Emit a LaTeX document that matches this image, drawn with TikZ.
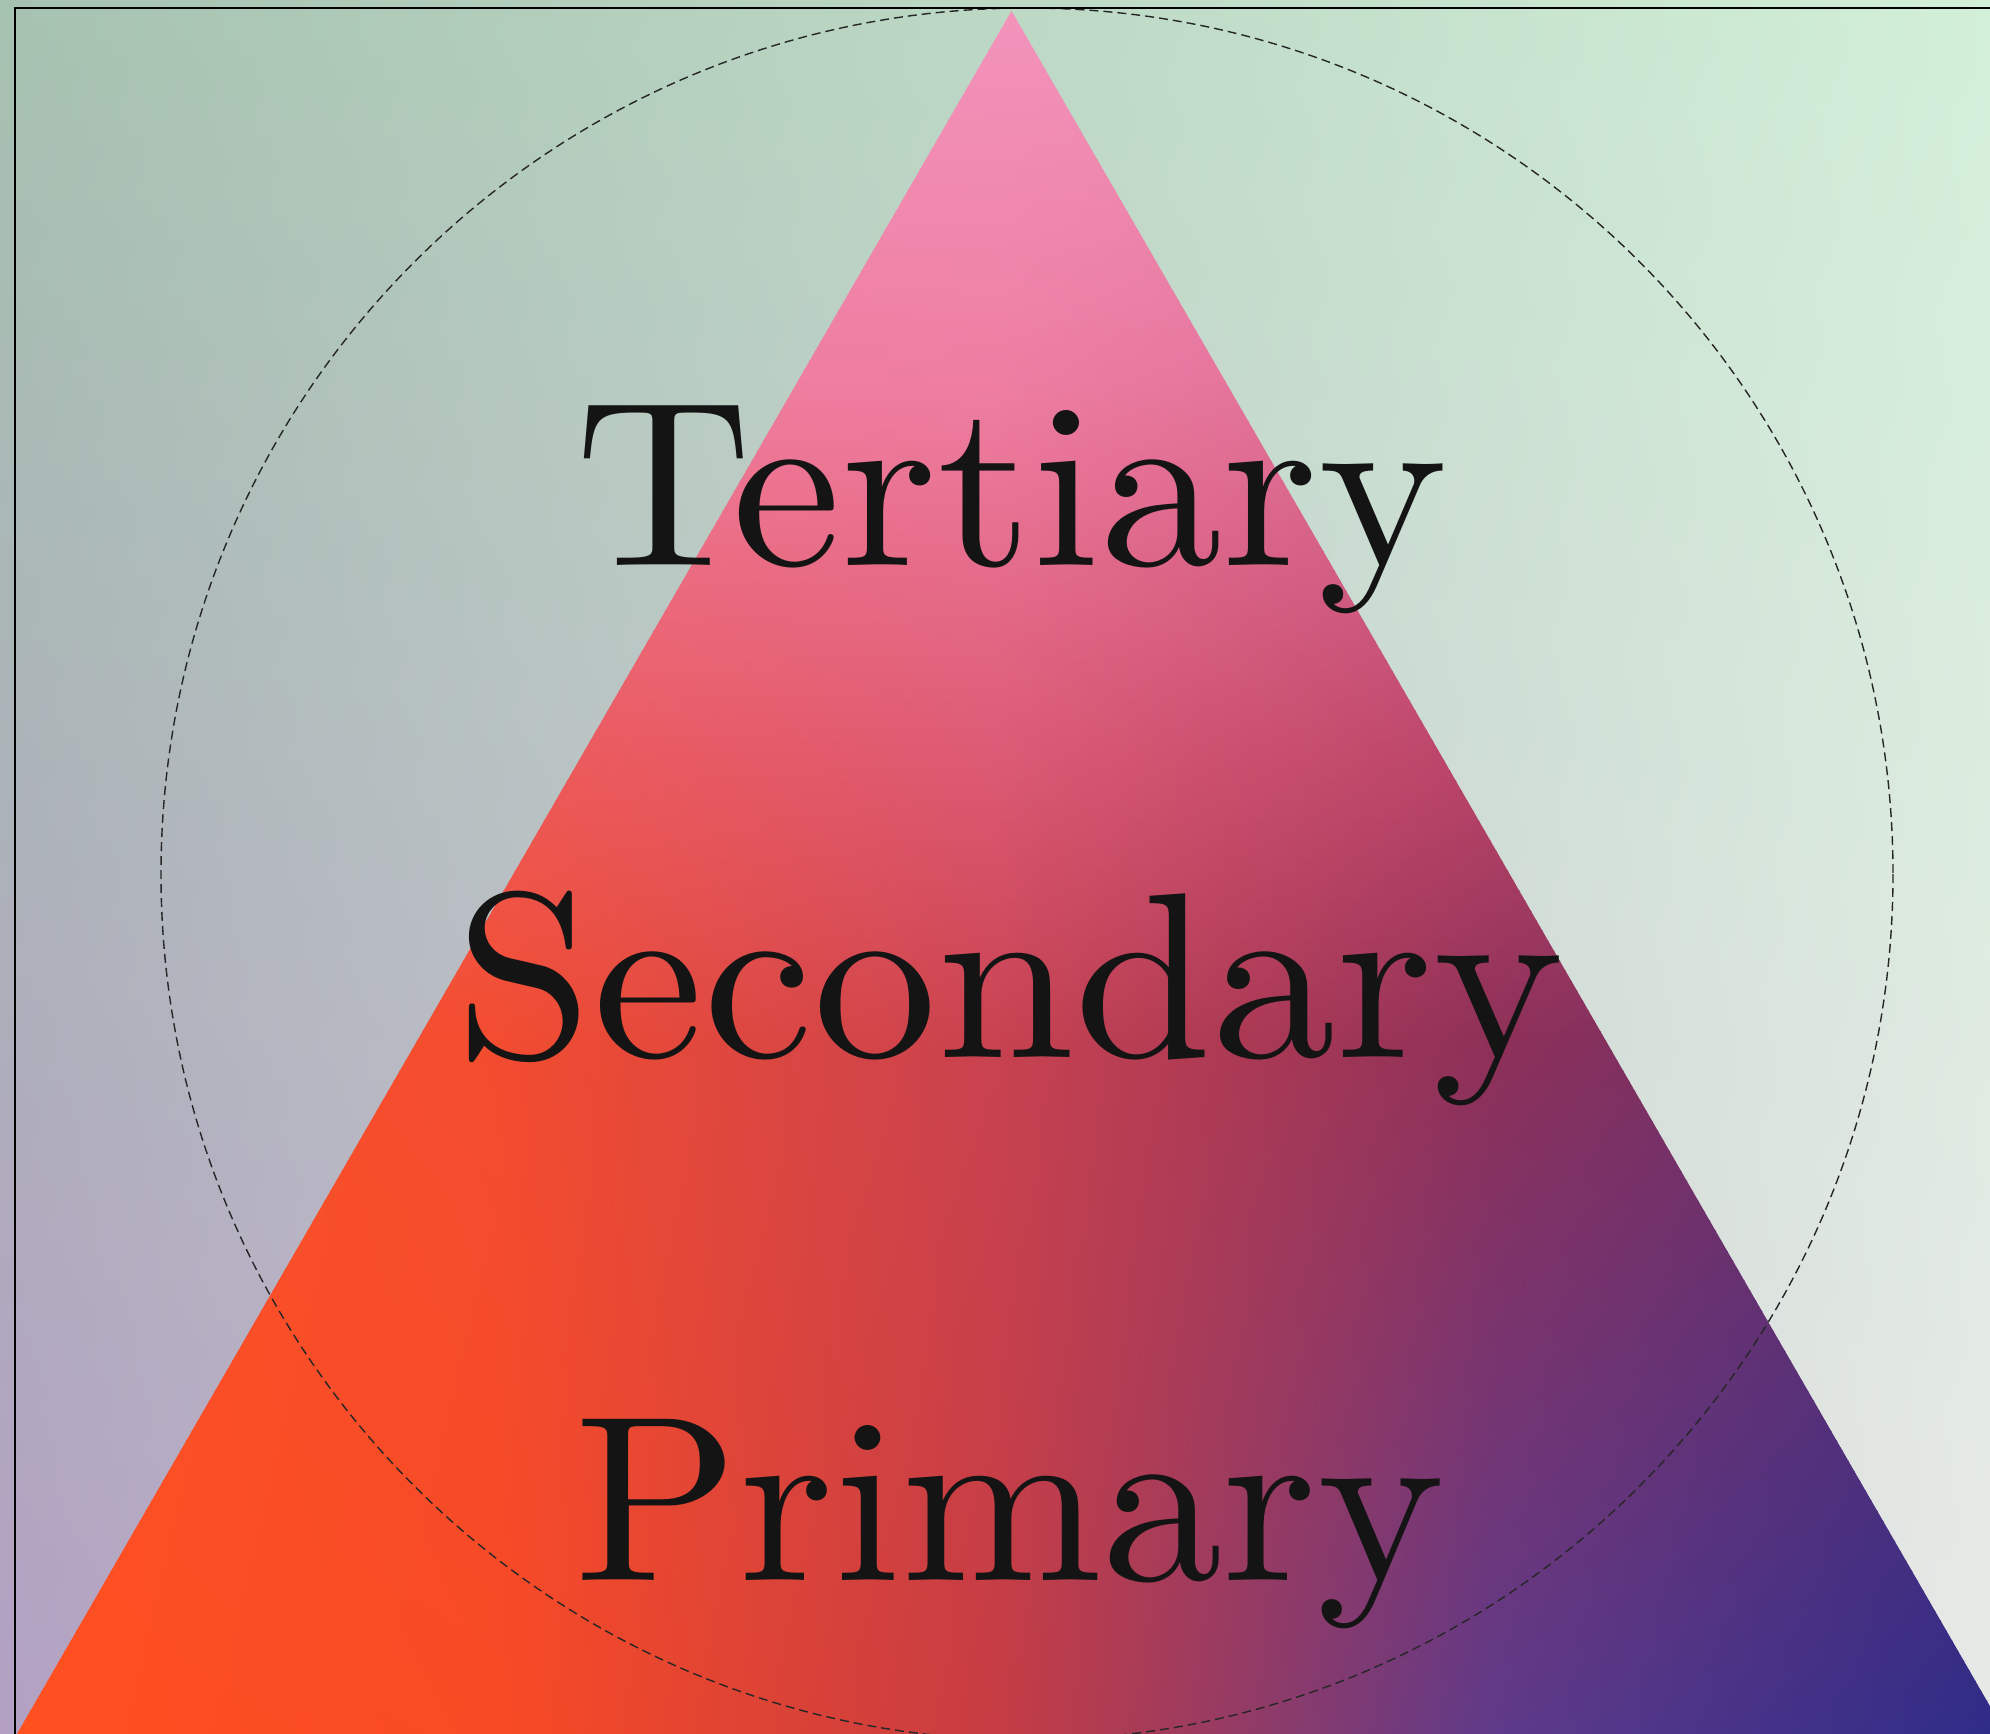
\documentclass[tikz,border=0pt]{standalone}
\usepackage{fontspec}
\newfontfamily\dispfont{lmroman10-regular.otf}
\definecolor{bgTL}{HTML}{A6C2B0}
\definecolor{bgBL}{HTML}{B3A0C3}
\definecolor{bgTR}{HTML}{D2EFD9}
\definecolor{bgBR}{HTML}{E8E9E7}
\definecolor{inkc}{HTML}{141414}
% triangle key rows (colours at x = 0, 500, 1000, 1500, 1990)
\definecolor{rowAa}{HTML}{F394BC}\definecolor{rowAb}{HTML}{F394BC}\definecolor{rowAc}{HTML}{F394BC}\definecolor{rowAd}{HTML}{F394BC}\definecolor{rowAe}{HTML}{F394BC}
\definecolor{rowBa}{HTML}{F27A8E}\definecolor{rowBb}{HTML}{F07C9C}\definecolor{rowBc}{HTML}{EE7EA2}\definecolor{rowBd}{HTML}{DC6C96}\definecolor{rowBe}{HTML}{D06090}
\definecolor{rowCa}{HTML}{F65A48}\definecolor{rowCb}{HTML}{EE5A58}\definecolor{rowCc}{HTML}{DC5A74}\definecolor{rowCd}{HTML}{B84468}\definecolor{rowCe}{HTML}{A03C68}
\definecolor{rowDa}{HTML}{FF5226}\definecolor{rowDb}{HTML}{F24C30}\definecolor{rowDc}{HTML}{C84250}\definecolor{rowDd}{HTML}{8E3058}\definecolor{rowDe}{HTML}{603070}
\definecolor{rowEa}{HTML}{FF5020}\definecolor{rowEb}{HTML}{F84A24}\definecolor{rowEc}{HTML}{C63C42}\definecolor{rowEd}{HTML}{5E3A8A}\definecolor{rowEe}{HTML}{2E2C88}
\pgfdeclarehorizontalshading[ca,cb,cc,cd,ce]{trirow}{100bp}{color(0bp)=(ca); color(25bp)=(ca); color(37.5bp)=(cb); color(50bp)=(cc); color(62.5bp)=(cd); color(75bp)=(ce); color(100bp)=(ce)}
\newcommand\trseg[4]{%
  \pgfmathtruncatemacro{\nn}{(#2-#1)/10}%
  \foreach \k in {1,...,\nn}{%
    \pgfmathsetmacro{\yy}{#1+(\k-1)*10}%
    \pgfmathsetmacro{\tp}{(\k-0.5)/\nn*100}%
    \colorlet{ca}{#4a!\tp!#3a}\colorlet{cb}{#4b!\tp!#3b}\colorlet{cc}{#4c!\tp!#3c}%
    \colorlet{cd}{#4d!\tp!#3d}\colorlet{ce}{#4e!\tp!#3e}%
    \shade[shading=trirow] (0,\yy) rectangle (1990,\yy+11);
  }}
\begin{document}
\begin{tikzpicture}[x=1pt,y=-1pt,
  word/.style={font=\dispfont\fontsize{236}{240}\selectfont, text=inkc, anchor=base, inner sep=0pt},
  frameline/.style={line width=2pt, draw=black},
  guide/.style={draw=black!85, line width=1.4pt, dash pattern=on 9pt off 5pt}]
\useasboundingbox (0,0) rectangle (1990,1734);
% background gradient
\foreach \i in {0,...,86}{
  \pgfmathsetmacro{\yy}{\i*20}
  \pgfmathsetmacro{\pp}{min(100,(\i*20+10)/1734*100)}
  \colorlet{cl}{bgBL!\pp!bgTL}
  \colorlet{cr}{bgBR!\pp!bgTR}
  \shade[left color=cl, right color=cr] (0,\yy) rectangle (1990,\yy+21);
}
% triangle
\begin{scope}
\clip (1011.5,11) -- (17,1734) -- (2006,1734) -- cycle;
\trseg{0}{380}{rowA}{rowB}
\trseg{380}{760}{rowB}{rowC}
\trseg{760}{1040}{rowC}{rowD}
\trseg{1040}{1740}{rowD}{rowE}
\end{scope}
% guide circle
\path[guide] (1027,874) circle[radius=866];
% frame
\path[frameline] (15,1734) -- (15,8) -- (1990,8);
% labels
\node[word] (tertiary) at (1012,565) {\scalebox{1.038}[1]{Tertiary}};
\node[word] (secondary) at (1010,1057) {\scalebox{1.049}[1]{Secondary}};
\node[word] (primary) at (1010,1580) {\scalebox{1.023}[1]{Primary}};
\end{tikzpicture}
\end{document}
